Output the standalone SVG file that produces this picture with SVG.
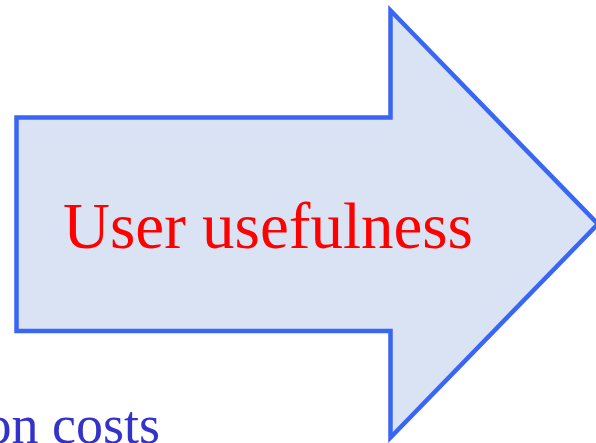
<svg xmlns="http://www.w3.org/2000/svg" width="596" height="443" viewBox="0 0 596 443">
  <style>
    .arrow { fill: #dae3f4; stroke: #3a66f5; stroke-width: 4.5; stroke-linejoin: miter; }
    .label { font-family: "Liberation Serif", "Times New Roman", serif; }
  </style>
  <rect width="596" height="443" fill="#ffffff"/>
  <g id="arrow-node">
    <polygon class="arrow" points="16.5,117.5 390.5,117.5 390.5,10.5 598,224 390.5,437.5 390.5,331 16.5,331"/>
    <text class="label" x="268" y="248" font-size="65" fill="#ff0000" text-anchor="middle">User usefulness</text>
  </g>
  <g id="costs-label">
    <text class="label" x="160" y="443" font-size="54" fill="#3333cc" text-anchor="end">on costs</text>
  </g>
  <g id="connectors"></g>
</svg>
